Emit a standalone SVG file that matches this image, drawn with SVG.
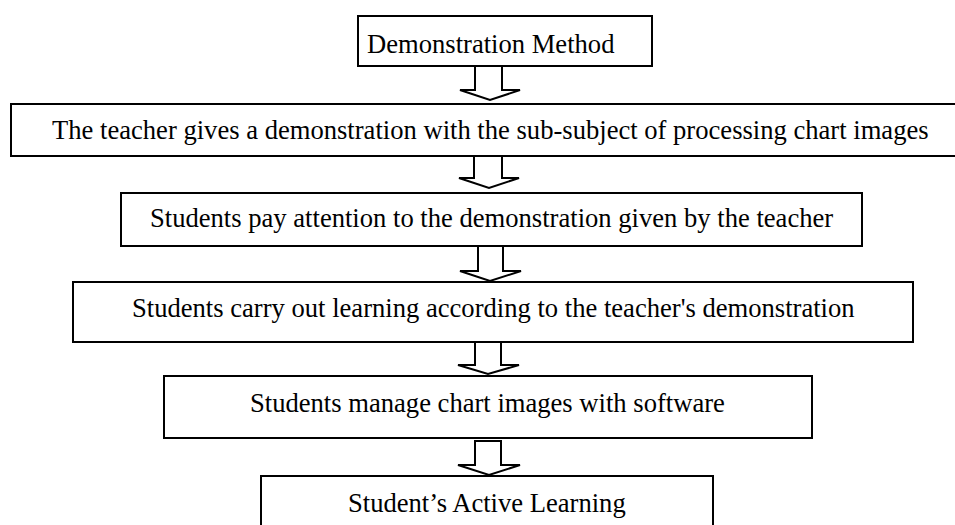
<svg xmlns="http://www.w3.org/2000/svg" width="955" height="525" viewBox="0 0 955 525">
  <style>
    .box { fill: #ffffff; stroke: #000000; stroke-width: 2; }
    .arrow { fill: #ffffff; stroke: #000000; stroke-width: 2; stroke-linejoin: miter; }
    .label { font-family: "Liberation Serif", "Times New Roman", serif; font-size: 26.6px; fill: #000000; }
  </style>
  <rect width="955" height="525" fill="#ffffff"/>

  <!-- block arrows between steps -->
  <g id="connectors">
    <polygon class="arrow" points="475,66 502,66 502,90 520,90 490,100 460,90 475,90"/>
    <polygon class="arrow" points="474,156 502,156 502,178 519,178 489,188 459,178 474,178"/>
    <polygon class="arrow" points="478,245 503,245 503,271 521,271 490,281 460,271 478,271"/>
    <polygon class="arrow" points="475,342 501,342 501,365 519,365 488,374 458,365 475,365"/>
    <polygon class="arrow" points="475,441 501,441 501,465 520,465 489,475 458,465 475,465"/>
  </g>

  <g id="node-method">
    <rect class="box" x="358" y="16" width="294" height="50"/>
    <text class="label" x="367" y="53">Demonstration Method</text>
  </g>

  <g id="node-teacher-demo">
    <rect class="box" x="11" y="104" width="948" height="52"/>
    <text class="label" x="52" y="139">The teacher gives a demonstration with the sub-subject of processing chart images</text>
  </g>

  <g id="node-attention">
    <rect class="box" x="121" y="193" width="741" height="53"/>
    <text class="label" x="150" y="227">Students pay attention to the demonstration given by the teacher</text>
  </g>

  <g id="node-learning">
    <rect class="box" x="73" y="282" width="840" height="60"/>
    <text class="label" x="132" y="317">Students carry out learning according to the teacher's demonstration</text>
  </g>

  <g id="node-software">
    <rect class="box" x="164" y="376" width="648" height="62"/>
    <text class="label" x="250" y="412">Students manage chart images with software</text>
  </g>

  <g id="node-active">
    <rect class="box" x="261" y="476" width="452" height="60"/>
    <text class="label" x="348" y="512">Student’s Active Learning</text>
  </g>
</svg>
